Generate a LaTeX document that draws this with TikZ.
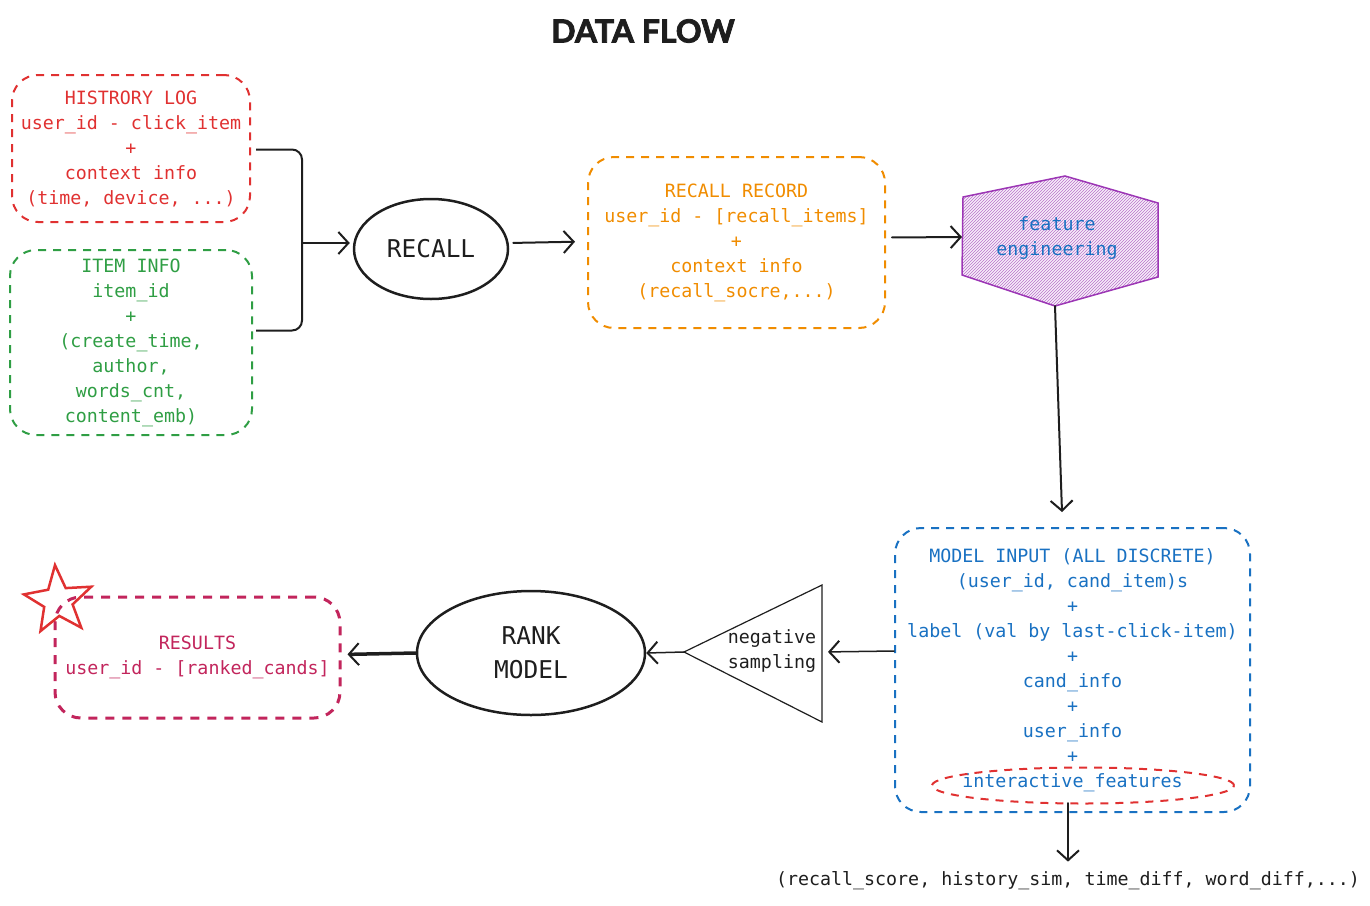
\documentclass[tikz,border=0pt]{standalone}
\usepackage{fontspec}
\setmonofont{DejaVu Sans Mono}
\newfontfamily\titlefont{Lato}[BoldFeatures={FakeBold=2.5}]
\usetikzlibrary{arrows.meta,patterns,calc,shapes.geometric}
\definecolor{cred}{HTML}{E03131}
\definecolor{cgreen}{HTML}{2F9E44}
\definecolor{corange}{HTML}{F08C00}
\definecolor{cblue}{HTML}{1971C2}
\definecolor{cpurple}{HTML}{9C36B5}
\definecolor{ccrim}{HTML}{C2255C}
\definecolor{cblack}{HTML}{1E1E1E}
\begin{document}
\begin{tikzpicture}[x=1pt,y=-1pt,
  txt/.style={font=\ttfamily\fontsize{18.3}{25}\selectfont, align=center, inner sep=0pt},
  big/.style={font=\ttfamily\fontsize{24.5}{34}\selectfont, align=center, inner sep=0pt},
  dbox/.style={draw, line width=2pt, dash pattern=on 8pt off 7pt, rounded corners=26pt, txt},
  arr/.style={draw=cblack, line width=2pt, line cap=round, -{Straight Barb[length=10pt,width=22pt,line width=2pt]}},
  oval/.style={draw=cblack, ellipse, line width=2.5pt, big, text=cblack},
]
\useasboundingbox (0,0) rectangle (1370,905);
\node[font=\titlefont\bfseries\fontsize{32}{32}\selectfont, text=cblack] (title) at (643,31) {DATA FLOW};

% left boxes
\node[dbox, draw=cred, text=cred, minimum width=238pt, minimum height=147pt] (hist) at (131,148.5)
  {HISTRORY LOG\\user\_id - click\_item\\+\\context info\\(time, device, ...)};
\node[dbox, draw=cgreen, text=cgreen, minimum width=242pt, minimum height=185pt] (item) at (131,342.5)
  {ITEM INFO\\item\_id\\+\\(create\_time,\\author,\\words\_cnt,\\content\_emb)};

% recall
\node[oval, minimum width=154pt, minimum height=100pt] (recall) at (431,249) {RECALL};
\coordinate (j) at (302,243);
\draw[draw=cblack, line width=2pt, rounded corners=10pt] ($(hist.east)+(5,1)$) -| (j);
\draw[draw=cblack, line width=2pt, rounded corners=10pt] ($(item.east)+(3,-12)$) -| (j);
\draw[arr] (j) -- ($(recall.west)+(-3,-6)$);

% recall record
\node[dbox, draw=corange, text=corange, minimum width=297pt, minimum height=171pt] (rr) at (736.5,242.5)
  {RECALL RECORD\\user\_id - [recall\_items]\\+\\context info\\(recall\_socre,...)};
\draw[arr, shorten <=4pt, shorten >=12pt] ($(recall.east)+(0,-6)$) -- ($(rr.west)+(0,-1)$);

% feature engineering hexagon
\coordinate (fw) at (962,237);
\coordinate (fs) at (1055,306);
\draw[draw=cpurple, line width=1.5pt, pattern=north east lines, pattern color=cpurple!70,
      preaction={fill=cpurple!8}]
  (963,197) -- (1065,176) -- (1158,203) -- (1158,277) -- (fs) -- (962,275) -- cycle;
\node[txt, text=cblue] (fe) at (1057,238.5) {feature\\engineering};
\draw[arr, shorten <=3pt] ($(rr.east)+(3,-5)$) -- (fw);

% model input
\node[dbox, draw=cblue, text=cblue, minimum width=355pt, minimum height=284pt] (mi) at (1072.5,670)
  {MODEL INPUT (ALL DISCRETE)\\(user\_id, cand\_item)s\\+\\label (val by last-click-item)\\+\\cand\_info\\+\\user\_info\\+\\interactive\_features};
\draw[arr, shorten >=15pt] (fs) -- ($(mi.north)+(-10,0)$);
\node[draw=cred, line width=2pt, dash pattern=on 8pt off 7pt, ellipse, minimum width=302pt, minimum height=36pt, inner sep=0pt] (ie) at (1083,785.5) {};
\node[txt, text=cblack] (feat) at (1068,881) {(recall\_score, history\_sim, time\_diff, word\_diff,...)};
\draw[arr, line width=1.8pt] (1068,803) -- ($(feat.north)+(0,-10)$);

% negative sampling triangle
\coordinate (ta) at (684,652);
\coordinate (tr) at (822,652);
\draw[draw=cblack, line width=1.2pt, line join=miter] (822,585) -- (ta) -- (822,722) -- cycle;
\node[txt, text=cblack] (ns) at (772,651.5) {negative\\sampling};
\draw[arr, line width=1.5pt, shorten >=6pt] ($(mi.west)+(0,-19)$) -- (tr);

% rank model
\node[oval, minimum width=228pt, minimum height=124pt] (rank) at (531,653) {RANK\\MODEL};
\draw[arr, line width=1.5pt] (ta) -- (rank.east);

% results
\node[dbox, draw=ccrim, text=ccrim, line width=3pt, dash pattern=on 9pt off 8pt, minimum width=285pt, minimum height=121pt] (res) at (197.5,657.5)
  {RESULTS\\user\_id - [ranked\_cands]};
\draw[arr, line width=3.5pt, shorten >=6pt] (rank.west) -- ($(res.east)+(0,-3)$);

% star
\draw[draw=cred, line width=2.5pt, line join=miter]
  (55.0,565.1) -- (48.2,589.7) -- (23.9,594.4) -- (44.2,606.9) -- (40.5,631.1) -- (59.3,615.9)
  -- (81.3,627.7) -- (72.6,604.4) -- (91.3,586.7) -- (65.7,588.1) -- cycle;
\end{tikzpicture}
\end{document}
